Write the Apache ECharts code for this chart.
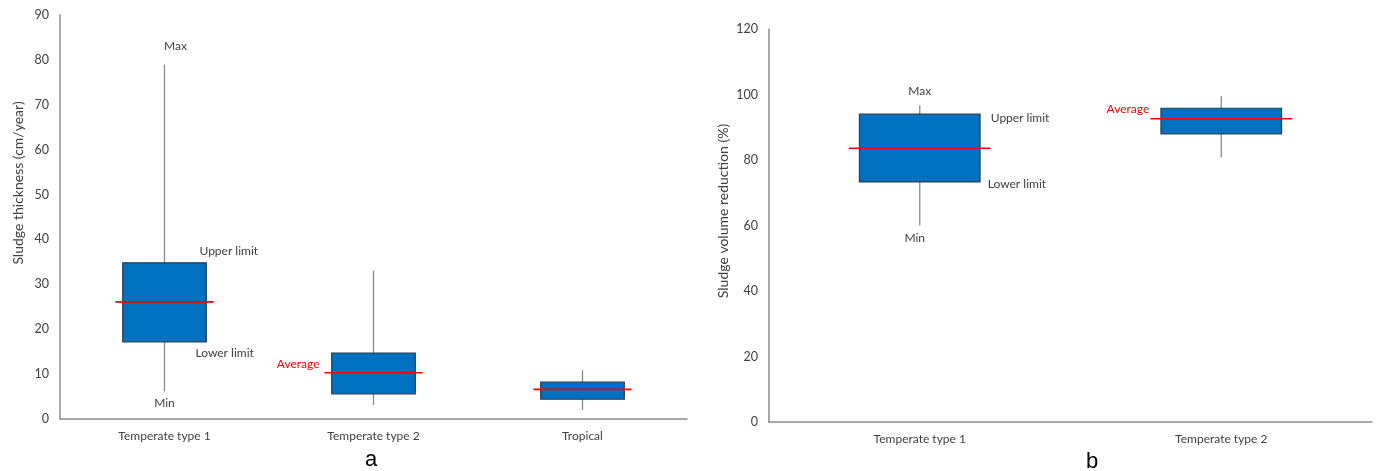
<!DOCTYPE html>
<html>
<head>
<meta charset="utf-8">
<script src="https://cdn.jsdelivr.net/npm/echarts@6/dist/echarts.min.js"></script>
<style>
  html, body { margin: 0; padding: 0; background: #fff; }
  #main { width: 1378px; height: 471px; }
</style>
</head>
<body>
<div id="main"></div>
<script>
// chart a: sludge thickness (cm/year)
const catsA = ['Temperate type 1', 'Temperate type 2', 'Tropical'];
const minA = [6.1, 3.1, 2.0];
const lowerA = [17.2, 5.6, 4.4];
const avgA = [26.1, 10.3, 6.6];
const upperA = [34.8, 14.7, 8.2];
const maxA = [79, 33, 10.9];

// chart b: sludge volume reduction (%)
const catsB = ['Temperate type 1', 'Temperate type 2'];
const minB = [60, 80.8];
const lowerB = [73.3, 88];
const avgB = [83.6, 92.6];
const upperB = [94, 95.8];
const maxB = [96.7, 99.5];

const FONT = 'Lato';
const TXT = '#404040';

const rows = (cats, mn, lo, av, up, mx) =>
  cats.map((c, i) => [i, mn[i], lo[i], av[i], up[i], mx[i]]);

// box + whisker + red average line, all placed by the axes
function renderBox(params, api) {
  const c = api.value(0);
  const band = api.size([1, 0])[0];
  const bw = band * 0.4, rw = band * 0.47;
  const pMin = api.coord([c, api.value(1)]);
  const pLo = api.coord([c, api.value(2)]);
  const pAv = api.coord([c, api.value(3)]);
  const pUp = api.coord([c, api.value(4)]);
  const pMax = api.coord([c, api.value(5)]);
  const x = pMin[0];
  return {
    type: 'group',
    children: [
      { type: 'line', shape: { x1: x, y1: pMin[1], x2: x, y2: pMax[1] },
        style: { stroke: '#8a8a8a', lineWidth: 1.3 } },
      { type: 'rect', shape: { x: x - bw / 2, y: pUp[1], width: bw, height: pLo[1] - pUp[1] },
        style: { fill: '#0070C0', stroke: '#2b3d52', lineWidth: 1.2 } },
      { type: 'line', shape: { x1: x - rw / 2, y1: pAv[1], x2: x + rw / 2, y2: pAv[1] },
        style: { stroke: '#FF0000', lineWidth: 1.6 } }
    ]
  };
}

// annotation texts, anchored on data values
const notesA = [
  { t: 'Max', c: 0, v: maxA[0], dx: 11, dy: -18, al: 'center' },
  { t: 'Upper limit', c: 0, v: upperA[0], dx: 35, dy: -12, al: 'left' },
  { t: 'Lower limit', c: 0, v: lowerA[0], dx: 31, dy: 11, al: 'left' },
  { t: 'Min', c: 0, v: minA[0], dx: 0, dy: 12, al: 'center' },
  { t: 'Average', c: 1, v: avgA[1], dx: -54, dy: -9, al: 'right', red: true }
];
const notesB = [
  { t: 'Max', c: 0, v: maxB[0], dx: 0, dy: -14, al: 'center' },
  { t: 'Upper limit', c: 0, v: upperB[0], dx: 71, dy: 4, al: 'left' },
  { t: 'Lower limit', c: 0, v: lowerB[0], dx: 68, dy: 2, al: 'left' },
  { t: 'Min', c: 0, v: minB[0], dx: -5, dy: 13, al: 'center' },
  { t: 'Average', c: 1, v: avgB[1], dx: -72, dy: -10, al: 'right', red: true }
];

function noteSeries(notes, idx) {
  return {
    type: 'custom',
    xAxisIndex: idx, yAxisIndex: idx,
    data: notes.map(n => [n.c, n.v]),
    silent: true,
    renderItem: (params, api) => {
      const n = notes[params.dataIndex];
      const p = api.coord([api.value(0), api.value(1)]);
      return {
        type: 'text',
        style: {
          x: p[0] + n.dx, y: p[1] + n.dy, text: n.t,
          align: n.al, verticalAlign: 'middle',
          font: '12px ' + FONT, fill: n.red ? '#FF0000' : TXT
        }
      };
    }
  };
}

const axisLine = { show: true, lineStyle: { color: '#8c8c8c', width: 1.5 } };

const xAxis = (cats, idx) => ({
  type: 'category', gridIndex: idx, data: cats,
  axisLine: axisLine, axisTick: { show: false },
  axisLabel: { color: TXT, fontFamily: FONT, fontSize: 12, margin: 11 }
});
const yAxis = (idx, max, interval) => ({
  type: 'value', gridIndex: idx, min: 0, max: max, interval: interval,
  axisLine: axisLine, axisTick: { show: false }, splitLine: { show: false },
  axisLabel: { color: TXT, fontFamily: FONT, fontSize: 12.5, margin: 11 }
});

// rotated axis titles (sit above the axis middle, as in the original)
const axisTitle = (text, x, y) => ({
  type: 'text', x: x, y: y, rotation: Math.PI / 2,
  style: { text: text, align: 'center', verticalAlign: 'middle', font: '14px ' + FONT, fill: TXT }
});

const option = {
  backgroundColor: '#fff',
  animation: false,
  title: [
    { text: 'a', left: 360, top: 444, textStyle: { fontFamily: 'Liberation Sans', fontSize: 22, fontWeight: 'normal', color: '#000' } },
    { text: 'b', left: 1081, top: 446, textStyle: { fontFamily: 'Liberation Sans', fontSize: 22, fontWeight: 'normal', color: '#000' } }
  ],
  graphic: [
    axisTitle('Sludge thickness (cm/year)', 18, 183),
    axisTitle('Sludge volume reduction (%)', 723, 211)
  ],
  grid: [
    { left: 60, top: 15, width: 627, height: 404 },
    { left: 769, top: 29, width: 603, height: 393 }
  ],
  xAxis: [xAxis(catsA, 0), xAxis(catsB, 1)],
  yAxis: [yAxis(0, 90, 10), yAxis(1, 120, 20)],
  series: [
    { type: 'custom', xAxisIndex: 0, yAxisIndex: 0, renderItem: renderBox,
      encode: { x: 0, y: [1, 5] }, data: rows(catsA, minA, lowerA, avgA, upperA, maxA) },
    { type: 'custom', xAxisIndex: 1, yAxisIndex: 1, renderItem: renderBox,
      encode: { x: 0, y: [1, 5] }, data: rows(catsB, minB, lowerB, avgB, upperB, maxB) },
    noteSeries(notesA, 0),
    noteSeries(notesB, 1)
  ]
};

echarts.init(document.getElementById('main')).setOption(option);
</script>
</body>
</html>
